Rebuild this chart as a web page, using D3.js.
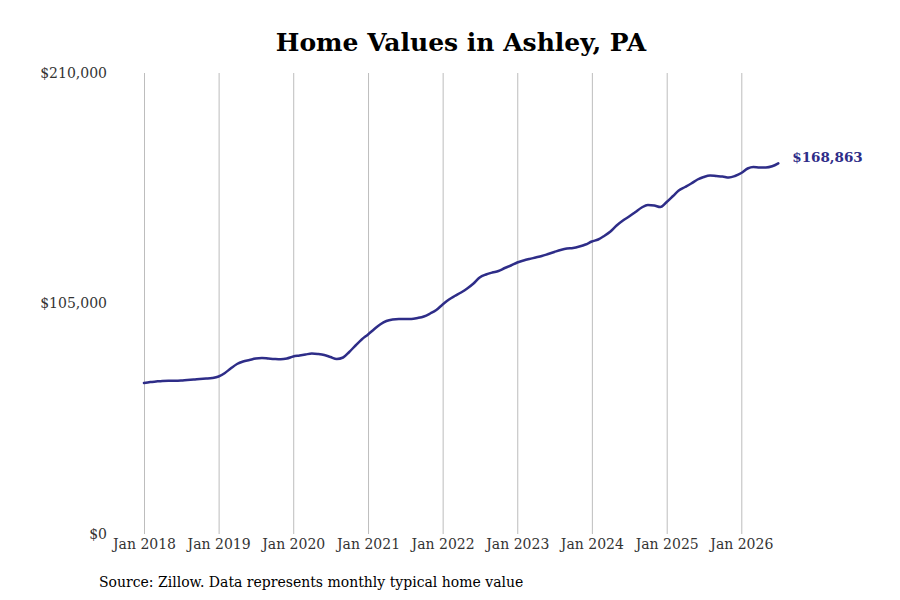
<!DOCTYPE html>
<html lang="en">
<head>
  <meta charset="UTF-8">
  <title>Home Values in Ashley, PA</title>
  <script src="https://d3js.org/d3.v7.min.js"></script>
  <style>
    body {
      margin: 0;
      background: #fff;
      font-family: "DejaVu Serif", serif;
    }

    .grid line {
      stroke: #bdbdbd;
      stroke-width: 1;
    }

    .tick text {
      font-family: "DejaVu Serif", serif;
      font-size: 14px;
      fill: #333;
    }
  </style>
</head>
<body>
  <svg id="chart"></svg>
  <script>
    // Monthly typical home value, Jan 2018 .. Jul 2026
    const startMonth = [2018, 0];
    const homeValues = [
      68785, 69241, 69468, 69696, 69787, 69787, 69878, 70152, 70334, 70607, 70789, 71063,
      71746, 73340, 75390, 77440, 78579, 79262, 79946, 80173, 79946, 79718, 79581, 79946,
      80857, 81312, 81768, 82223, 81995, 81540, 80629, 79718, 80401, 82906, 85867, 88601,
      90878, 93384, 95433, 97028, 97711, 97939, 97939, 97939, 98394, 99078, 100444, 102039,
      104544, 106822, 108416, 110010, 111833, 114110, 116843, 118210, 119121, 119804, 121171, 122310,
      123676, 124587, 125271, 125954, 126637, 127548, 128459, 129371, 130054, 130282, 130965, 131876,
      133242, 134153, 135748, 137798, 140531, 142809, 144631, 146681, 148731, 149869, 149642, 148958,
      151236, 153969, 156475, 158069, 159663, 161485, 162624, 163308, 163080, 162852, 162397, 163080,
      164446, 166496, 167180, 166952, 166952, 167500, 168863
    ];
    const yTicks = [0, 105000, 210000];
    const xTickYears = [2018, 2019, 2020, 2021, 2022, 2023, 2024, 2025, 2026];

    const width = 900;
    const height = 600;
    const lineColor = "#2e2d88";

    const data = homeValues.map((v, i) => ({
      date: new Date(startMonth[0], startMonth[1] + i, 1),
      value: v
    }));

    const svg = d3.select("#chart")
      .attr("width", width)
      .attr("height", height);

    const x = d3.scaleTime()
      .domain([new Date(2018, 0, 1), new Date(2026, 0, 1)])
      .range([144, 741.3]);

    const y = d3.scaleLinear()
      .domain([0, 210000])
      .range([534, 73]);

    // Title
    svg.append("text")
      .attr("x", 461)
      .attr("y", 51)
      .attr("text-anchor", "middle")
      .style("font-family", "DejaVu Serif, serif")
      .style("font-weight", "bold")
      .style("font-size", "25px")
      .attr("fill", "#000")
      .text("Home Values in Ashley, PA");

    // X axis with vertical gridlines
    const xAxis = d3.axisBottom(x)
      .tickValues(xTickYears.map(yr => new Date(yr, 0, 1)))
      .tickFormat(d3.timeFormat("Jan %Y"))
      .tickSize(-(y(0) - y(210000)))
      .tickPadding(5);

    svg.append("g")
      .attr("class", "grid")
      .attr("transform", `translate(0, ${y(0)})`)
      .call(xAxis)
      .call(g => g.select(".domain").remove());

    // Y axis labels
    const yAxis = d3.axisLeft(y)
      .tickValues(yTicks)
      .tickFormat(d => "$" + d3.format(",")(d))
      .tickSize(0)
      .tickPadding(0);

    svg.append("g")
      .attr("transform", "translate(107, 0)")
      .call(yAxis)
      .call(g => g.select(".domain").remove());

    // Line
    const line = d3.line()
      .x(d => x(d.date))
      .y(d => y(d.value))
      .curve(d3.curveMonotoneX);

    svg.append("path")
      .datum(data)
      .attr("fill", "none")
      .attr("stroke", lineColor)
      .attr("stroke-width", 2.5)
      .attr("stroke-linejoin", "round")
      .attr("stroke-linecap", "round")
      .attr("d", line);

    // End label
    const last = data[data.length - 1];
    svg.append("text")
      .attr("x", x(last.date) + 14)
      .attr("y", y(last.value) - 1)
      .style("font-family", "DejaVu Serif, serif")
      .style("font-weight", "bold")
      .style("font-size", "13.5px")
      .attr("fill", lineColor)
      .text("$" + d3.format(",")(last.value));

    // Source note
    svg.append("text")
      .attr("x", 99)
      .attr("y", 587)
      .style("font-family", "DejaVu Serif, serif")
      .style("font-size", "14px")
      .attr("fill", "#000")
      .text("Source: Zillow. Data represents monthly typical home value");
  </script>
</body>
</html>
